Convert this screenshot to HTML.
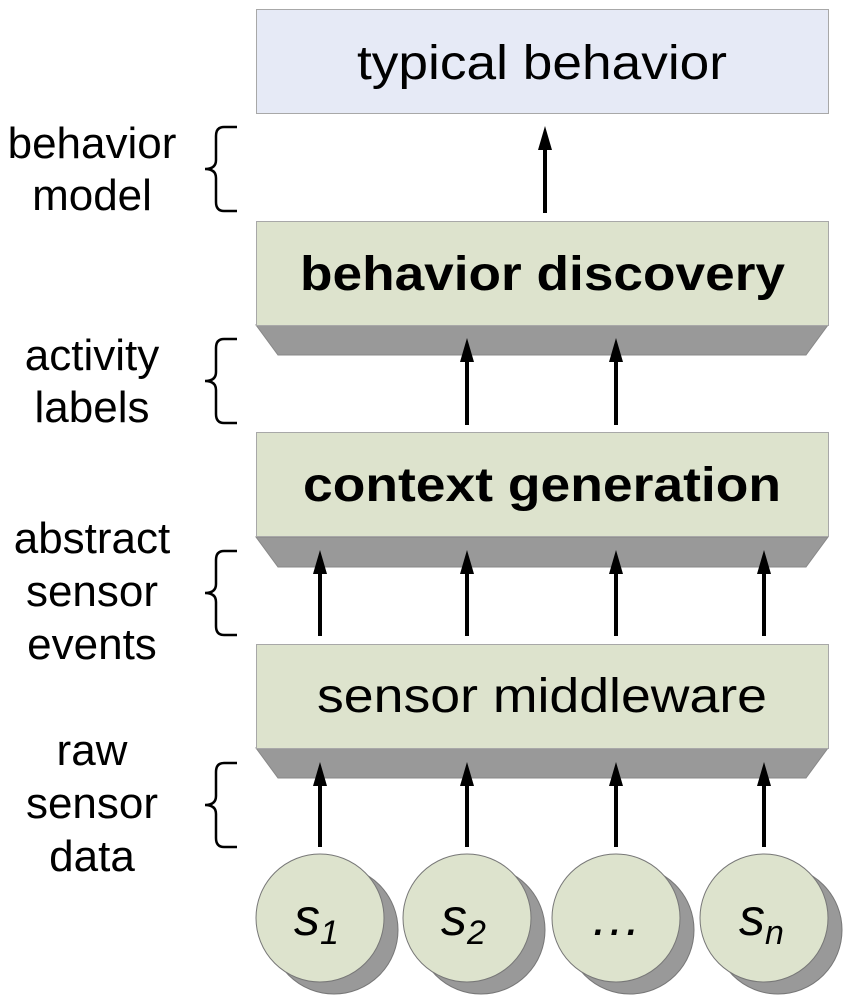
<!DOCTYPE html>
<html><head><meta charset="utf-8"><style>
html,body{margin:0;padding:0;background:#fff;}
svg{display:block;}
text{font-family:"Liberation Sans",Arial,sans-serif;}
</style></head><body>
<svg width="850" height="1000" viewBox="0 0 850 1000" xmlns="http://www.w3.org/2000/svg">
<!-- top box -->
<rect x="256.5" y="9.5" width="572" height="104" fill="#e6eaf6" stroke="#a8a8a8"/>
<text x="357" y="79" font-size="48" textLength="370" lengthAdjust="spacingAndGlyphs" fill="#000">typical behavior</text>

<!-- behavior discovery -->
<polygon points="256,325 828,325 806,355 278,355" fill="#999" stroke="#888"/>
<rect x="256.5" y="221.5" width="572" height="104" fill="#dde3cd" stroke="#a8a8a8"/>
<text x="300" y="290" font-size="48" font-weight="bold" textLength="485" lengthAdjust="spacingAndGlyphs">behavior discovery</text>

<!-- context generation -->
<polygon points="256,537 828,537 806,567 278,567" fill="#999" stroke="#888"/>
<rect x="256.5" y="432.5" width="572" height="104" fill="#dde3cd" stroke="#a8a8a8"/>
<text x="303" y="501" font-size="48" font-weight="bold" textLength="478" lengthAdjust="spacingAndGlyphs">context generation</text>

<!-- sensor middleware -->
<polygon points="256,748 828,748 806,778 278,778" fill="#999" stroke="#888"/>
<rect x="256.5" y="644.5" width="572" height="104" fill="#dde3cd" stroke="#a8a8a8"/>
<text x="317" y="712" font-size="48" textLength="450" lengthAdjust="spacingAndGlyphs">sensor middleware</text>

<!-- arrows -->
<g stroke="#000" stroke-width="4" fill="#000">
<line x1="545" y1="213" x2="545" y2="146"/>
<line x1="467" y1="425" x2="467" y2="358"/>
<line x1="616" y1="425" x2="616" y2="358"/>
<line x1="320" y1="636" x2="320" y2="570"/>
<line x1="467" y1="636" x2="467" y2="570"/>
<line x1="616" y1="636" x2="616" y2="570"/>
<line x1="764" y1="636" x2="764" y2="570"/>
<line x1="320" y1="847" x2="320" y2="782"/>
<line x1="467" y1="847" x2="467" y2="782"/>
<line x1="616" y1="847" x2="616" y2="782"/>
<line x1="764" y1="847" x2="764" y2="782"/>
</g>
<g fill="#000">
<polygon points="545,126 538,150 552,150"/>
<polygon points="467,338 460,362 474,362"/>
<polygon points="616,338 609,362 623,362"/>
<polygon points="320,550 313,574 327,574"/>
<polygon points="467,550 460,574 474,574"/>
<polygon points="616,550 609,574 623,574"/>
<polygon points="764,550 757,574 771,574"/>
<polygon points="320,762 313,786 327,786"/>
<polygon points="467,762 460,786 474,786"/>
<polygon points="616,762 609,786 623,786"/>
<polygon points="764,762 757,786 771,786"/>
</g>

<!-- braces -->
<g fill="none" stroke="#000" stroke-width="2.5">
<path d="M237,127 H224 Q216,127 216,136 V160 Q216,169 205,169 Q216,169 216,178 V202 Q216,211 224,211 H237"/>
<path d="M237,339 H224 Q216,339 216,348 V372 Q216,381 205,381 Q216,381 216,390 V414 Q216,423 224,423 H237"/>
<path d="M237,551 H224 Q216,551 216,560 V584 Q216,593 205,593 Q216,593 216,602 V626 Q216,635 224,635 H237"/>
<path d="M237,763 H224 Q216,763 216,772 V796 Q216,805 205,805 Q216,805 216,814 V838 Q216,847 224,847 H237"/>
</g>

<!-- left labels -->
<g font-size="44" text-anchor="middle" fill="#000">
<text x="92" y="158">behavior</text>
<text x="92" y="210">model</text>
<text x="92" y="370">activity</text>
<text x="92" y="422">labels</text>
<text x="92" y="553">abstract</text>
<text x="92" y="606">sensor</text>
<text x="92" y="659">events</text>
<text x="92" y="765">raw</text>
<text x="92" y="818">sensor</text>
<text x="92" y="871">data</text>
</g>

<!-- sensors -->
<g stroke="#777" stroke-width="1">
<g transform="translate(320,918)">
<ellipse cx="14" cy="12" rx="64" ry="64" fill="#999"/>
<ellipse cx="0" cy="0" rx="64" ry="64" fill="#dde3cd"/>
</g>
<g transform="translate(467,918)">
<ellipse cx="14" cy="12" rx="64" ry="64" fill="#999"/>
<ellipse cx="0" cy="0" rx="64" ry="64" fill="#dde3cd"/>
</g>
<g transform="translate(616,918)">
<ellipse cx="14" cy="12" rx="64" ry="64" fill="#999"/>
<ellipse cx="0" cy="0" rx="64" ry="64" fill="#dde3cd"/>
</g>
<g transform="translate(764,918)">
<ellipse cx="14" cy="12" rx="64" ry="64" fill="#999"/>
<ellipse cx="0" cy="0" rx="64" ry="64" fill="#dde3cd"/>
</g>
</g>
<g font-size="52" font-style="italic" fill="#000">
<text x="294" y="935">s<tspan font-size="34" dy="9">1</tspan></text>
<text x="441" y="935">s<tspan font-size="34" dy="9">2</tspan></text>
<text x="616" y="935" text-anchor="middle">…</text>
<text x="739" y="935">s<tspan font-size="34" dy="9">n</tspan></text>
</g>
</svg>
</body></html>
